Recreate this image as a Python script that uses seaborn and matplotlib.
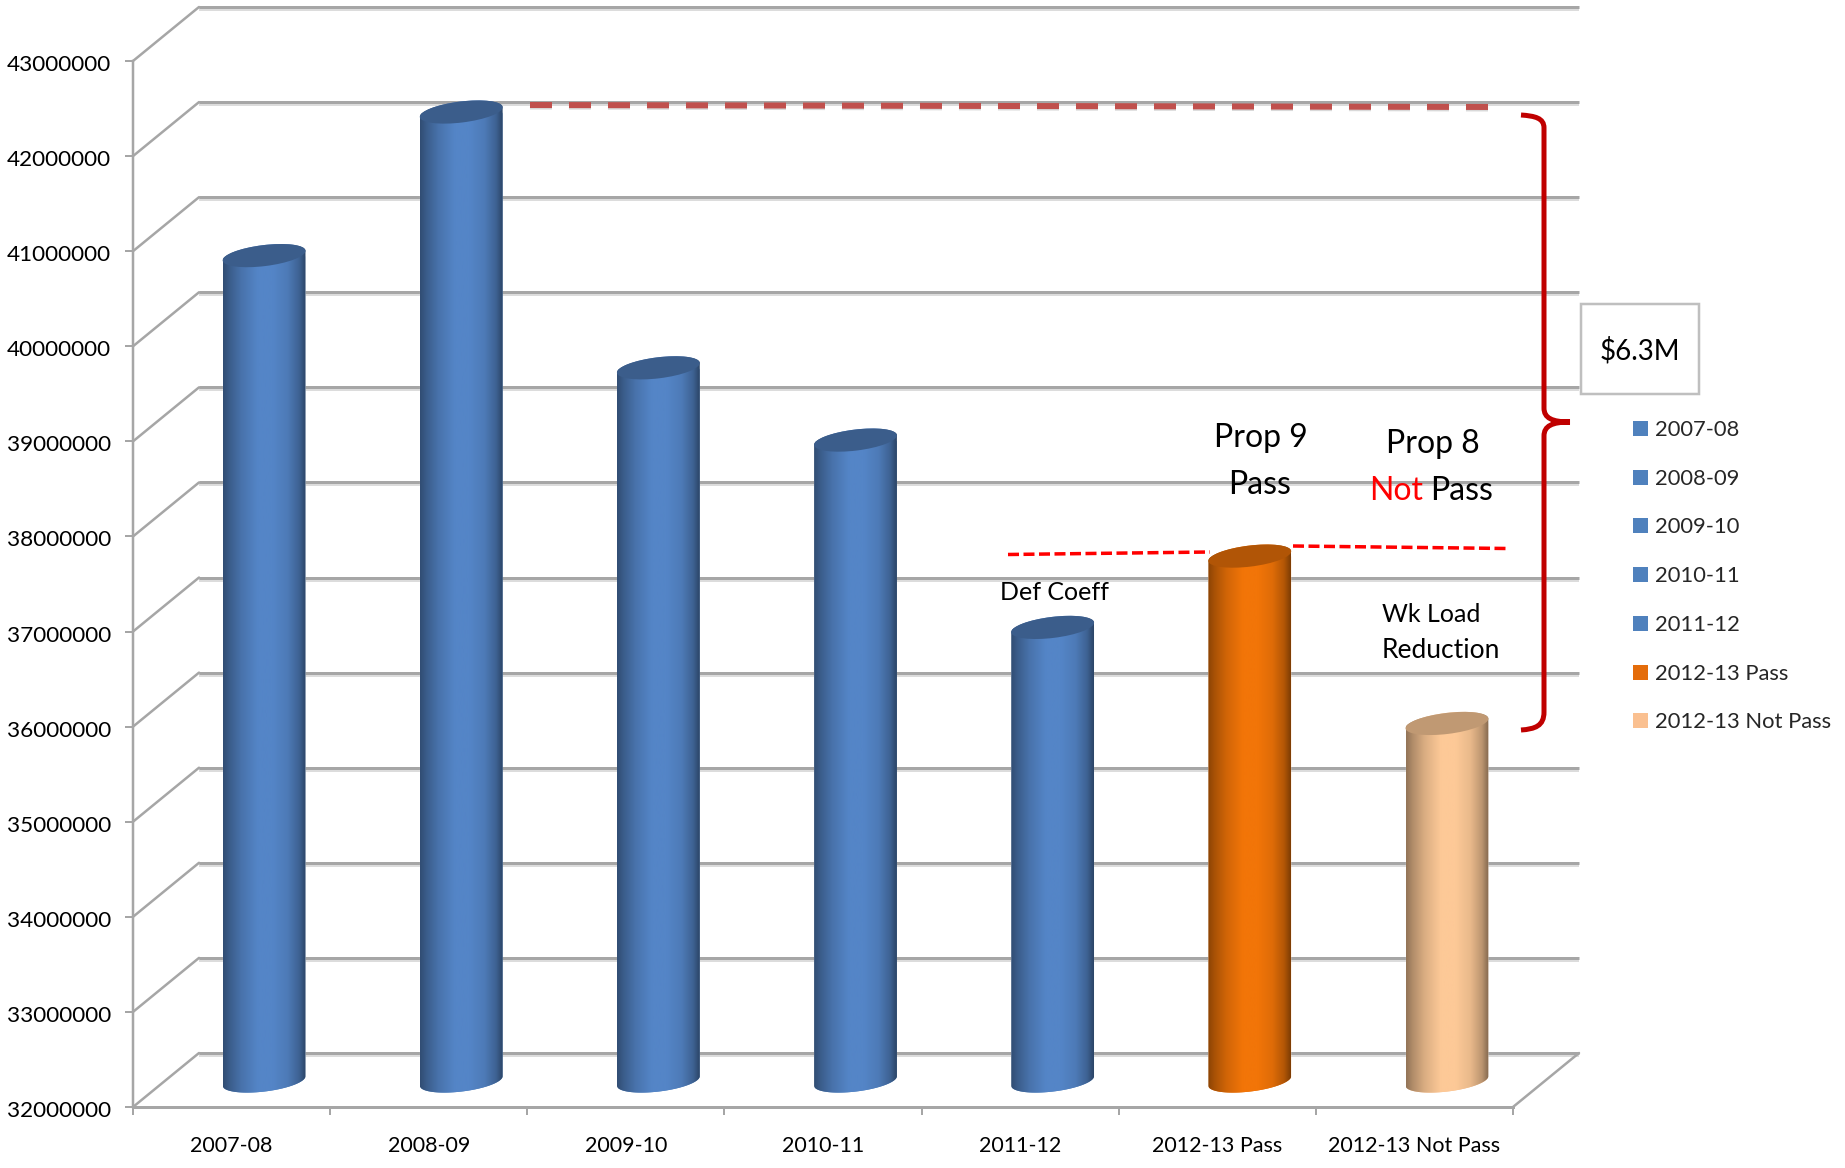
import numpy as np
import matplotlib
matplotlib.use("Agg")
import matplotlib.pyplot as plt
import pandas as pd
import seaborn as sns
from matplotlib.colors import to_rgb
from matplotlib.patches import Ellipse, Patch, PathPatch, Rectangle
from matplotlib.path import Path
from matplotlib.transforms import IdentityTransform, ScaledTranslation

# General-fund totals per year, in dollars
categories = ["2007-08", "2008-09", "2009-10", "2010-11", "2011-12",
              "2012-13 Pass", "2012-13 Not Pass"]
values = [40680000, 42190000, 39500000, 38740000, 36770000, 37520000, 35760000]
y_ticks = [32000000, 33000000, 34000000, 35000000, 36000000, 37000000,
           38000000, 39000000, 40000000, 41000000, 42000000, 43000000]
legend_colors = ["#4f81bd", "#4f81bd", "#4f81bd", "#4f81bd", "#4f81bd",
                 "#e46c0a", "#fac090"]
body_colors = ["#5485c7", "#5485c7", "#5485c7", "#5485c7", "#5485c7",
               "#f27508", "#fdc997"]
cap_shade = [0.70, 0.70, 0.70, 0.70, 0.70, 0.73, 0.76]

W, H, DPI = 1845, 1168, 100
FONT = "Lato"
GRID = "#a6a6a6"
GRID_SOFT = "#dcdcdc"

sns.set_theme(style="white", rc={"font.family": FONT})
fig = plt.figure(figsize=(W / DPI, H / DPI), dpi=DPI, facecolor="white")

# Front face of the 3D box: the value and category scales live here
left, right, top, bottom = 133, 1513, 61, 1107
ax = fig.add_axes([left / W, 1 - bottom / H, (right - left) / W, (bottom - top) / H])
ax.patch.set_visible(False)

frame = pd.DataFrame({"year": categories, "amount": values})
sns.barplot(data=frame, x="year", y="amount", hue="year", order=categories,
            hue_order=categories, palette=legend_colors, width=0.42, legend=False,
            saturation=1, ax=ax, zorder=3)
ax.set_xlim(-0.5, 6.5)
ax.set_ylim(y_ticks[0], y_ticks[-1])
ax.set_autoscale_on(False)
ax.set_xlabel("")
ax.set_ylabel("")

px = 72 / DPI


def shifted(dx, dy):
    """Data transform moved by dx, dy pixels into the depth of the box."""
    return ax.transData + ScaledTranslation(dx / DPI, dy / DPI, fig.dpi_scale_trans)


wall = shifted(66, 54)      # back wall of the box
mid_depth = shifted(32.5, 26)  # plane in which the cylinders stand

# Axis furniture
ax.set_yticks(y_ticks, labels=[str(v) for v in y_ticks])
ax.set_xticks(np.arange(-0.5, 7), labels=[])
ax.set_xticks(range(7), labels=categories, minor=True)
ax.tick_params(axis="y", length=8 * px, width=2 * px, color=GRID, pad=14 * px,
               labelsize=16.2, labelcolor="black", left=True)
ax.tick_params(axis="x", which="major", length=8 * px, width=2 * px, color=GRID, bottom=True)
ax.tick_params(axis="x", which="minor", length=0, pad=29 * px, labelsize=15.5, labelcolor="black")
down = ScaledTranslation(0, -2 / DPI, fig.dpi_scale_trans)
for label in ax.get_yticklabels():
    label.set_transform(label.get_transform() + down)
for side in ("top", "right"):
    ax.spines[side].set_visible(False)
ax.spines["left"].set(color=GRID, linewidth=2.5 * px, zorder=1)
ax.spines["bottom"].set(color=GRID, linewidth=3 * px, zorder=1)

# Back-wall gridlines with their soft shadow, and the side-wall diagonals
ax.hlines(y_ticks, -0.5, 6.5, transform=shifted(66, 52), colors=GRID_SOFT,
          linewidth=4 * px, clip_on=False, zorder=0.8)
ax.hlines(y_ticks, -0.5, 6.5, transform=wall, colors=GRID,
          linewidth=3 * px, clip_on=False, zorder=1)
for v in y_ticks:
    a = ax.transData.transform((-0.5, v))
    b = wall.transform((-0.5, v))
    ax.plot([a[0], b[0]], [a[1], b[1]], color=GRID, linewidth=2.5 * px,
            transform=IdentityTransform(), clip_on=False, zorder=1)
a = ax.transData.transform((6.5, y_ticks[0]))
b = wall.transform((6.5, y_ticks[0]))
ax.plot([a[0], b[0]], [a[1], b[1]], color=GRID, linewidth=2.5 * px,
        transform=IdentityTransform(), clip_on=False, zorder=1)

# Shade each seaborn bar into a tilted cylinder
TILT = np.radians(7)
MINOR = 10.5
stops = np.array([0.0, 0.08, 0.22, 0.42, 0.6, 0.78, 0.92, 1.0])
shade = np.array([0.58, 0.70, 0.86, 1.0, 1.0, 0.92, 0.74, 0.52])
xs = np.linspace(0, 1, 128)


def rim(center, major, t):
    cx, cy = center
    u = major * np.cos(t)
    v = MINOR * np.sin(t)
    return np.column_stack([cx + u * np.cos(TILT) - v * np.sin(TILT),
                            cy + u * np.sin(TILT) + v * np.cos(TILT)])


for bar, color, cap in zip(ax.patches, body_colors, cap_shade):
    mid = bar.get_x() + bar.get_width() / 2
    height = bar.get_y() + bar.get_height()
    bar.set_transform(mid_depth)
    foot = mid_depth.transform((mid, y_ticks[0]))
    head = mid_depth.transform((mid, height))
    x0 = mid_depth.transform((bar.get_x(), height))[0]
    x1 = mid_depth.transform((bar.get_x() + bar.get_width(), height))[0]
    major = (x1 - x0) / 2 / np.cos(TILT)

    outline = np.vstack([rim(foot, major, np.linspace(np.pi, 2 * np.pi, 50)),
                         rim(head, major, np.linspace(0, np.pi, 50))])
    outline_path = Path(np.vstack([outline, outline[:1]]), closed=True)
    bar.set_clip_path(outline_path, IdentityTransform())

    rgb = np.array(to_rgb(color))
    profile = np.interp(xs, stops, shade)[None, :, None] * rgb[None, None, :]
    img = ax.imshow(np.clip(profile, 0, 1), aspect="auto", interpolation="bilinear",
                    extent=(x0, x1, foot[1] - MINOR - 12, head[1] + MINOR + 12),
                    transform=IdentityTransform(), zorder=3.5)
    img.set_clip_path(outline_path, IdentityTransform())

    ax.add_patch(Ellipse(head, 2 * major, 2 * MINOR, angle=np.degrees(TILT),
                         facecolor=tuple(rgb * cap), edgecolor="none",
                         transform=IdentityTransform(), clip_on=False, zorder=4))

# Annotation layer in pixel units of the finished figure
note = fig.add_axes([0, 0, 1, 1], zorder=5)
note.set_xlim(0, W)
note.set_ylim(H, 0)
note.axis("off")

# Peak reference line, with a faint drop shadow
note.plot([530, 1497], [107, 109], color="#c9c9c9", linewidth=5 * px,
          dashes=(22 / 5, 17 / 5), dash_capstyle="butt", alpha=0.7)
note.plot([530, 1497], [105, 107], color="#c0504d", linewidth=6 * px,
          dashes=(22 / 6, 17 / 6), dash_capstyle="butt")

# Prop 9 reference line, interrupted by the orange cylinder
note.plot([1008, 1210], [554.5, 552], color="#ff0000", linewidth=3.5 * px,
          dashes=(11 / 3.5, 4.5 / 3.5), dash_capstyle="butt")
note.plot([1293, 1507], [546, 548.5], color="#ff0000", linewidth=3.5 * px,
          dashes=(11 / 3.5, 4.5 / 3.5), dash_capstyle="butt")

# Curly bracket spanning the $6.3M gap
verts = [(1521, 115), (1535, 116), (1544, 118), (1544, 128), (1544, 408),
         (1544, 418), (1552, 422), (1570, 422), (1552, 422), (1544, 426), (1544, 436),
         (1544, 712), (1544, 726), (1535, 729), (1521, 730)]
codes = [Path.MOVETO, Path.CURVE4, Path.CURVE4, Path.CURVE4, Path.LINETO,
         Path.CURVE4, Path.CURVE4, Path.CURVE4, Path.CURVE4, Path.CURVE4, Path.CURVE4,
         Path.LINETO, Path.CURVE4, Path.CURVE4, Path.CURVE4]
note.add_patch(PathPatch(Path(verts, codes), facecolor="none", edgecolor="#c00000",
                         linewidth=5 * px, capstyle="butt"))

note.add_patch(Rectangle((1581, 304), 118, 90, facecolor="white", edgecolor="#bfbfbf",
                         linewidth=2.5 * px))
note.text(1640, 351, "$6.3M", fontsize=20, ha="center", va="center", color="black")

note.text(1261, 438, "Prop 9", fontsize=23, ha="center", va="center", color="black")
note.text(1260, 485, "Pass", fontsize=23, ha="center", va="center", color="black")
note.text(1433, 444, "Prop 8", fontsize=23, ha="center", va="center", color="black")
note.text(1369, 491, "Not", fontsize=23, ha="left", va="center", color="#ff0000")
note.text(1430, 491, "Pass", fontsize=23, ha="left", va="center", color="black")
note.text(1054, 592, "Def Coeff", fontsize=18, ha="center", va="center", color="black")
note.text(1382, 615, "Wk Load", fontsize=18, ha="left", va="center", color="black")
note.text(1382, 651, "Reduction", fontsize=19, ha="left", va="center", color="black")

handles = [Patch(facecolor=c, edgecolor="none") for c in legend_colors]
note.legend(handles, categories, loc="upper left", bbox_to_anchor=(1633, 420),
            bbox_transform=note.transData, frameon=False, fontsize=15.8,
            handlelength=0.68, handleheight=0.68, handletextpad=0.3,
            labelspacing=1.31, borderpad=0, borderaxespad=0)

fig.savefig("out.png", dpi=DPI, facecolor="white")
